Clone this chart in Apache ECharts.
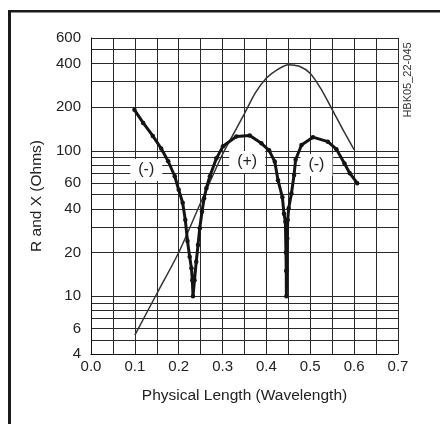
<!DOCTYPE html>
<html><head><meta charset="utf-8">
<script src="https://cdn.jsdelivr.net/npm/echarts@6/dist/echarts.min.js"></script>
<style>html,body{margin:0;padding:0;background:#fff}#c{width:440px;height:424px}</style>
</head><body><div id="c"></div>
<script>
// Tick values / labels
const yLabelValues = [4, 6, 10, 20, 40, 60, 100, 200, 400, 600];
const yGridValues = [4, 5, 6, 7, 8, 9, 10, 20, 30, 40, 50, 60, 70, 80, 90, 100, 200, 300, 400, 500, 600];

// Resistance (thin curve)
const rLength = [0.10, 0.15, 0.20, 0.25, 0.30, 0.33, 0.35, 0.375, 0.40, 0.425, 0.45, 0.475, 0.50, 0.525, 0.55, 0.575, 0.60];
const rOhms   = [5.4, 10.4, 20, 44, 95, 140, 181, 252, 318, 364, 393, 383, 342, 266, 193, 139, 102];

// Reactance magnitude (thick curve with markers)
const xLength = [0.099,0.119,0.141,0.160,0.176,0.191,0.200,0.209,0.215,0.220,0.225,0.229,0.231,0.2326,0.236,0.240,0.244,0.248,0.253,0.258,0.263,0.271,0.286,0.301,0.3315,0.362,0.3885,0.406,0.419,0.4264,0.4364,0.440,0.4432,0.4445,0.4452,0.4455,0.4462,0.4475,0.4485,0.4508,0.457,0.463,0.4665,0.480,0.506,0.540,0.5595,0.578,0.590,0.607];
const xOhms   = [192,156,127,104,85,67,54,44,33.5,24,18.7,15.6,12.9,10,12.9,17.3,22.5,29.4,38.2,47.3,55.4,67,89,108,126,128,113,101,84.5,63,48,37,32.6,20,15,10,15,25,33.5,40.3,51,68.4,87,110,124.5,116,103,82,70.3,60];

// Sign labels
const signText = ['(-)', '(+)', '(-)'];
const signX = [0.126, 0.356, 0.514];
const signY = [74, 84, 80];

const chart = echarts.init(document.getElementById('c'), null, {renderer: 'canvas'});
const FONT = 'Liberation Sans, Arial, sans-serif';
const gridColor = '#2a2a2a';

chart.setOption({
  animation: false,
  backgroundColor: '#fff',
  grid: {left: 91, right: 42, top: 38, bottom: 70, containLabel: false},
  xAxis: {
    type: 'value', min: 0, max: 0.7, interval: 0.1,
    name: 'Physical Length (Wavelength)', nameLocation: 'middle', nameGap: 34,
    nameTextStyle: {fontFamily: FONT, fontSize: 15.5, color: '#222'},
    axisLine: {show: true, onZero: false, lineStyle: {color: '#111', width: 1}},
    axisTick: {show: false},
    minorTick: {show: false, splitNumber: 2},
    minorSplitLine: {show: true, lineStyle: {color: gridColor, width: 1}},
    splitLine: {show: true, lineStyle: {color: gridColor, width: 1}},
    axisLabel: {fontFamily: FONT, fontSize: 15, color: '#222', margin: 5,
      formatter: v => v.toFixed(1)}
  },
  yAxis: {
    type: 'log', logBase: 10, min: 4, max: 600,
    name: 'R and X (Ohms)', nameLocation: 'middle', nameGap: 36,
    nameTextStyle: {fontFamily: FONT, fontSize: 15.5, color: '#222'},
    axisLine: {show: true, lineStyle: {color: '#111', width: 1}},
    axisTick: {show: false, customValues: yGridValues},
    splitLine: {show: true, lineStyle: {color: gridColor, width: 1}},
    axisLabel: {fontFamily: FONT, fontSize: 15, color: '#222', margin: 10, customValues: yLabelValues}
  },
  series: [
    {
      type: 'scatter', zlevel: 1, z: 3, symbolSize: 1, silent: true,
      itemStyle: {opacity: 0},
      data: signText.map((t, i) => ({value: [signX[i], signY[i]], name: t})),
      label: {show: true, position: 'inside', formatter: p => p.name, opacity: 1,
        fontFamily: FONT, fontSize: 16, color: '#222',
        backgroundColor: '#fff', padding: [3, 8, 3, 8]}
    },
    {
      type: 'line', zlevel: 1, z: 4, smooth: 0.25, symbol: 'none',
      data: rLength.map((x, i) => [x, rOhms[i]]),
      lineStyle: {color: '#333', width: 1.5}
    },
    {
      type: 'line', zlevel: 1, z: 5, smooth: false, symbol: 'circle', symbolSize: 4.5, showAllSymbol: true,
      data: xLength.map((x, i) => [x, xOhms[i]]),
      lineStyle: {color: '#141414', width: 3},
      itemStyle: {color: '#141414'}
    }
  ],
  graphic: [
    {type: 'rect', shape: {x: 8, y: 10, width: 3, height: 414}, style: {fill: '#1a1a1a'}},
    {type: 'rect', shape: {x: 8, y: 10, width: 432, height: 2.5}, style: {fill: '#1a1a1a'}},
    {type: 'text', x: 408, y: 80, rotation: Math.PI / 2,
      style: {text: 'HBK05_22-045', fontFamily: FONT, fontSize: 11, fill: '#333', align: 'center', verticalAlign: 'middle'}}
  ]
});
</script></body></html>
